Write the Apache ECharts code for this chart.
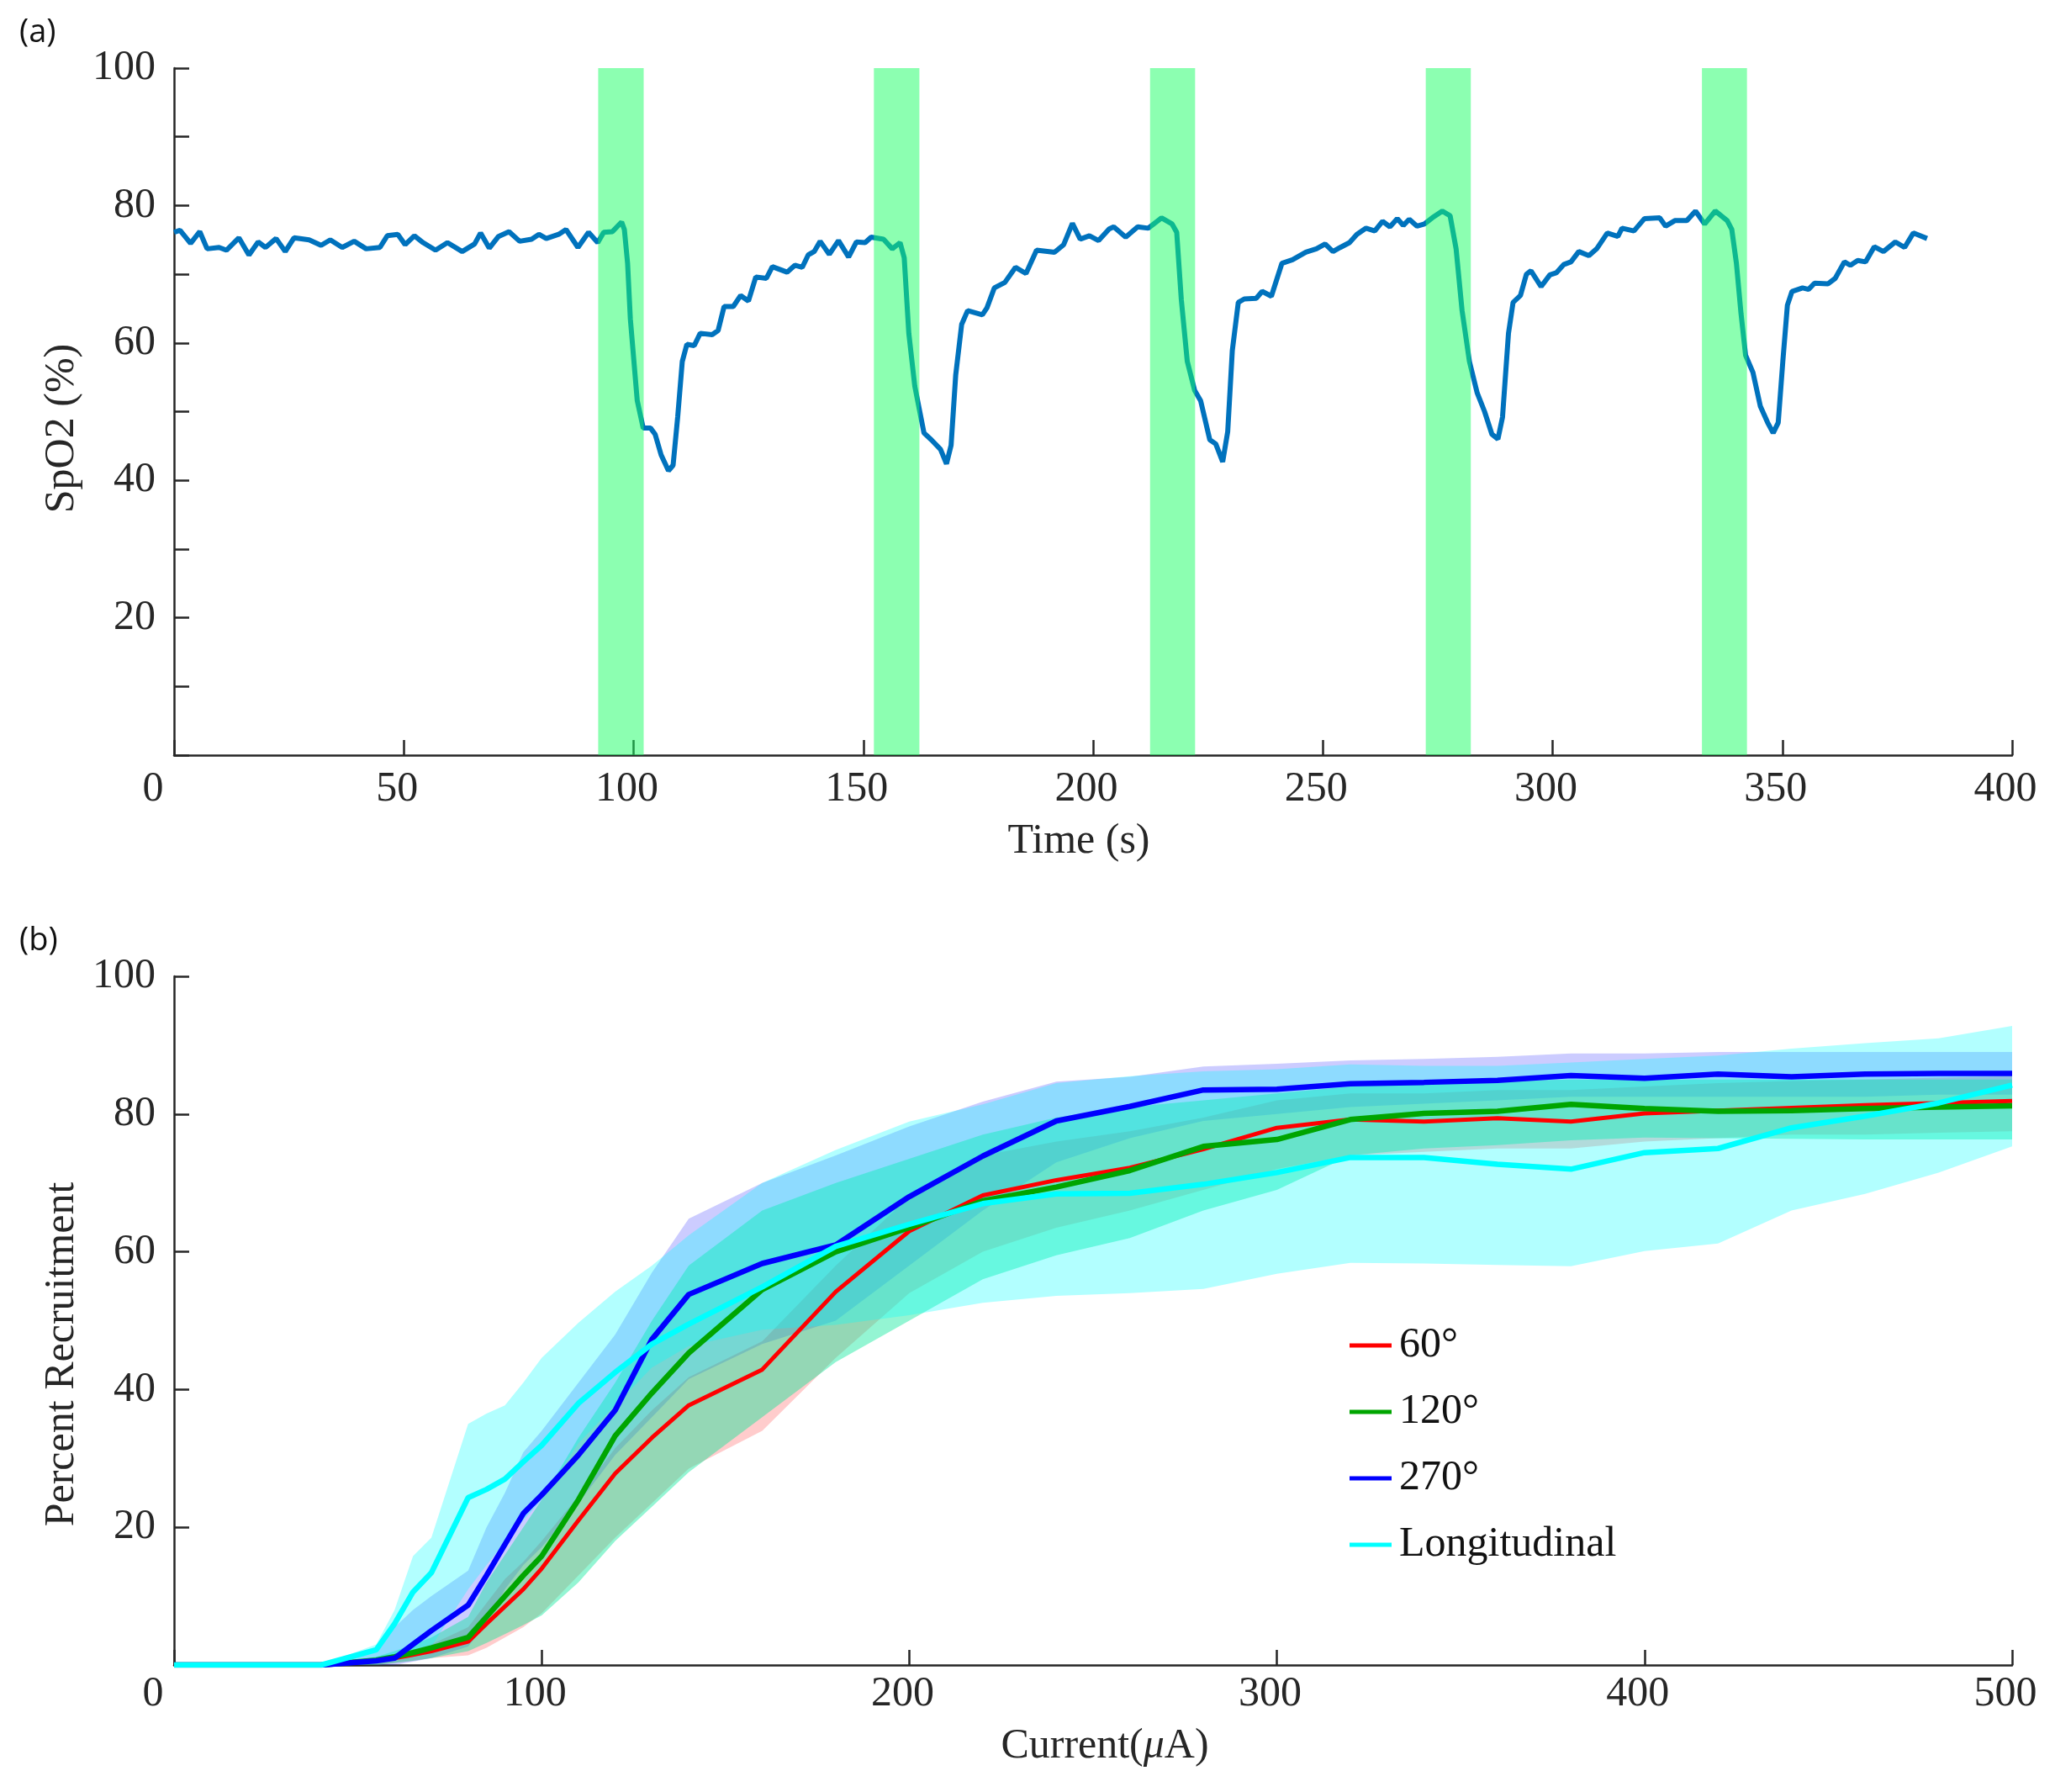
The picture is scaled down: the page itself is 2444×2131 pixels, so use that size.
<!DOCTYPE html>
<html>
<head>
<meta charset="utf-8">
<script src="https://cdn.jsdelivr.net/npm/echarts@6/dist/echarts.min.js"></script>
<style>
  html, body { margin: 0; padding: 0; background: #ffffff; }
  #chartContainer { width: 2444px; height: 2131px; }
</style>
</head>
<body>
<div id="chartContainer"></div>
<script>
// (a) SpO2 trace, [time s, SpO2 %]
var SPO2 = [
  [0, 76.1], [1.3, 76.4], [3.6, 74.5], [5.6, 76.2], [7.2, 73.7], [9.8, 73.9], [11.4, 73.5], [14.1, 75.3],
  [16.3, 72.8], [18.3, 74.7], [19.9, 73.9], [22.2, 75.2], [24.2, 73.3], [26.1, 75.3], [29.4, 75], [32, 74.2],
  [34, 75], [36.6, 73.9], [39.2, 74.8], [41.8, 73.7], [44.8, 73.9], [46.4, 75.6], [48.7, 75.8], [50.3, 74.3],
  [52.3, 75.6], [54.2, 74.6], [56.9, 73.5], [59.5, 74.6], [62.7, 73.3], [65.4, 74.4], [66.7, 76], [68.6, 73.8],
  [70.6, 75.5], [72.9, 76.2], [75.2, 74.8], [77.8, 75.1], [79.4, 75.8], [81, 75.2], [83.7, 75.8], [85.3, 76.5],
  [87.9, 73.9], [90.2, 76.1], [92.2, 74.6], [93.5, 76.1], [95.4, 76.2], [97.4, 77.6], [98, 76.5], [98.7, 71.6],
  [99.3, 63.5], [100.8, 51.6], [102.1, 47.6], [103.7, 47.6], [104.7, 46.7], [106, 43.7], [107.6, 41.4], [108.6, 42.2],
  [109.6, 49.2], [110.6, 57.3], [111.6, 59.8], [113.2, 59.6], [114.5, 61.4], [117.1, 61.2], [118.4, 61.8], [119.7, 65.3],
  [121.7, 65.3], [123.3, 66.9], [125, 66.1], [126.6, 69.6], [128.9, 69.4], [130.2, 71.1], [133.4, 70.3], [135.1, 71.3],
  [136.7, 71], [138, 72.8], [139.3, 73.3], [140.6, 74.8], [142.6, 72.9], [144.6, 74.9], [146.8, 72.5], [148.5, 74.7],
  [150.4, 74.6], [151.7, 75.4], [154.4, 75.1], [156.3, 73.7], [158, 74.6], [158.9, 72.4], [159.9, 61.4], [161.2, 53.7],
  [163.2, 46.9], [164.8, 45.9], [166.8, 44.5], [168.1, 42.4], [169.1, 45.1], [170.1, 55.3], [171.4, 62.7], [172.7, 64.7],
  [175.9, 64.1], [176.9, 65.1], [178.5, 68], [180.8, 68.8], [183.1, 71], [185.4, 70.1], [187.7, 73.5], [191.6, 73.2],
  [193.6, 74.3], [195.5, 77.4], [197.2, 75.1], [199.2, 75.6], [201.2, 74.9], [203.5, 76.6], [204.5, 76.9], [207.1, 75.4],
  [209.7, 76.9], [212, 76.7], [214.9, 78.2], [217.2, 77.3], [218.2, 76.1], [219.2, 66.3], [220.5, 57.3], [222.1, 53.1],
  [223.4, 51.6], [225.4, 45.9], [226.7, 45.3], [228.2, 42.7], [229.3, 47.1], [230.3, 58.9], [231.6, 65.9], [232.9, 66.4],
  [235.5, 66.5], [236.8, 67.5], [238.8, 66.8], [241.1, 71.6], [243.4, 72.1], [246.3, 73.2], [248.6, 73.7], [250.5, 74.4],
  [252.2, 73.3], [253.8, 73.9], [255.8, 74.6], [257.4, 75.8], [259.4, 76.7], [261.3, 76.3], [263, 77.7], [264.6, 76.9],
  [266.2, 78.1], [267.5, 77.1], [268.8, 78], [270.5, 77], [272.1, 77.3], [273.8, 78.2], [276, 79.2], [277.7, 78.5],
  [279, 73.7], [280.3, 64.7], [281.9, 57.3], [283.6, 52.7], [285.2, 50], [286.8, 46.7], [288.1, 46], [289.1, 49.2],
  [290.4, 61.4], [291.4, 65.9], [293, 66.9], [294.3, 70], [295.3, 70.5], [297.5, 68.2], [299.4, 69.9], [300.8, 70.2],
  [302.4, 71.4], [304, 71.8], [305.7, 73.3], [307.9, 72.7], [309.6, 73.7], [311.9, 76], [314.2, 75.5], [315.1, 76.7],
  [317.7, 76.3], [320, 78.1], [323.3, 78.2], [324.6, 77], [326.6, 77.8], [329.2, 77.8], [331.1, 79.2], [333.1, 77.3],
  [335.4, 79.2], [338, 77.8], [339, 76.5], [340, 71.6], [341, 64.3], [342, 58.2], [343.6, 55.7], [345.2, 50.8],
  [346.8, 48.4], [348, 46.9], [349.1, 48.4], [350.1, 57.3], [351.1, 65.5], [352.1, 67.5], [354.4, 68], [355.7, 67.8],
  [357, 68.7], [359.9, 68.6], [361.5, 69.4], [363.5, 71.8], [364.8, 71.3], [366.4, 72], [368.1, 71.8], [370, 74],
  [372, 73.3], [374.6, 74.7], [376.6, 73.9], [378.5, 76], [381.5, 75.2]
];
// stimulation windows (s)
var STIM_START = [92.3, 152.3, 212.4, 272.4, 332.5];
var STIM_END = [102.2, 162.2, 222.2, 282.2, 342.3];

// (b) recruitment curves
var CURRENT = [0, 40, 55, 60, 65, 70, 80, 85, 90, 95, 100, 110, 120, 130, 140, 160, 180, 200, 220, 240, 260, 280, 300, 320, 340, 360, 380, 400, 420, 440, 460, 480, 500];

var MEAN_60 = [0, 0, 0.7, 1, 1.5, 2, 3.4, 6, 8.5, 11, 14, 21, 27.8, 33, 37.7, 42.9, 54.2, 63, 68.2, 70.4, 72.2, 74.9, 78, 79.2, 78.9, 79.4, 78.9, 80.1, 80.5, 80.9, 81.3, 81.6, 81.9];
var LOW_60 = [0, 0, 0, 0.3, 0.6, 1, 1.4, 2.5, 4, 5.5, 7.5, 13, 18.5, 23.5, 28.5, 34, 44.6, 54, 60, 63.5, 66, 69, 72, 74, 74.5, 75, 75, 76, 76.5, 77, 77, 77.3, 77.5];
var HIGH_60 = [0, 0, 1, 1.5, 2.2, 3, 5.5, 9, 12.5, 15, 18, 24.5, 31.5, 37, 41.8, 47, 58, 68, 74, 76, 77.5, 79.5, 82, 83, 83, 83.5, 83.5, 84, 84.5, 84.8, 85, 85.3, 85.5];

var MEAN_120 = [0, 0, 0.7, 1.2, 1.8, 2.5, 4, 7, 10, 13, 15.8, 24, 33.3, 39.5, 45.3, 54.5, 60, 63.5, 67.4, 69.4, 71.8, 75.3, 76.3, 79.2, 80.1, 80.4, 81.4, 80.8, 80.4, 80.5, 80.8, 81, 81.2];
var LOW_120 = [0, 0, 0, 0.3, 0.6, 1, 2, 3.2, 4.5, 5.8, 7.2, 12, 18, 23, 28, 36, 44, 50, 56, 59.5, 62, 66, 69, 74, 75, 75.5, 76.2, 76.6, 76.5, 76.4, 76.3, 76.3, 76.3];
var HIGH_120 = [0, 0, 1.2, 2, 3, 4, 7, 12, 16, 20, 24, 33, 41, 50, 58, 66, 70, 73.5, 77, 79.5, 81, 82, 83, 84, 84.5, 84.8, 85, 85, 85, 85, 85, 85, 85];

var MEAN_270 = [0, 0, 0.6, 1, 3, 5, 8.7, 13, 17.5, 22, 24.7, 30.5, 37, 47.3, 53.8, 58.3, 61, 68, 73.9, 79, 81.1, 83.5, 83.6, 84.4, 84.6, 84.9, 85.6, 85.2, 85.8, 85.4, 85.8, 85.9, 85.9];
var LOW_270 = [0, 0, 0, 0, 0.5, 1, 2.7, 6, 11, 14.5, 17.1, 23.5, 30.5, 36, 41.5, 46.6, 50, 58, 66, 73, 76.5, 79, 80, 81, 81.5, 82, 82.5, 82.5, 82.5, 82.5, 82.5, 82.8, 82.8];
var HIGH_270 = [0, 0, 2, 5.5, 8, 10, 13.7, 20, 25, 30.9, 34, 41, 48, 57, 64.8, 70, 74, 78.2, 81.8, 84.7, 85.4, 86.9, 87.3, 87.8, 88, 88.3, 88.8, 88.8, 89, 89, 89, 89, 89];

var MEAN_LONG = [0, 0, 2.2, 6, 10.6, 13.4, 24.3, 25.5, 27, 29.5, 31.9, 38, 42.5, 46.6, 49.5, 54.9, 60.8, 64, 67, 68.4, 68.5, 69.8, 71.5, 73.7, 73.7, 72.7, 72, 74.4, 75, 78, 79.7, 81.6, 84.2];
var LOW_LONG = [0, 0, 0.7, 1.2, 2, 2.7, 11, 14.5, 17.8, 21, 24, 32.2, 37.7, 43.2, 46.3, 48.7, 49.4, 50.8, 52.6, 53.6, 54, 54.6, 56.8, 58.4, 58.3, 58.1, 57.9, 60.1, 61.2, 66, 68.4, 71.5, 75.3];
var HIGH_LONG = [0, 0, 3, 8, 15.8, 18.5, 35, 36.5, 37.7, 41, 44.6, 49.7, 54.2, 58, 62.4, 70, 74.8, 78.9, 81.4, 84.5, 85.5, 86.2, 86.5, 87.2, 87, 87, 87.5, 88, 88.5, 89.5, 90.3, 91, 92.8];

var LEGEND_NAMES = ["60°", "120°", "270°", "Longitudinal"];

var AXIS_COLOR = "#262626";
var FONT = "Liberation Serif";

function pairs(values) {
  return CURRENT.map((x, i) => [x, values[i]]);
}

// shaded band between low and high, drawn as one polygon on the (b) axes
function bandSeries(key, low, high, color) {
  return {
    name: key,
    type: "custom",
    xAxisIndex: 1,
    yAxisIndex: 1,
    silent: true,
    z: 1,
    data: CURRENT.map((x, i) => [x, low[i], high[i]]),
    encode: { x: 0, y: [1, 2] },
    renderItem: (params, api) => {
      if (params.dataIndex !== 0) {
        return null;
      }
      let points = [];
      for (let i = 0; i < CURRENT.length; i++) {
        points.push(api.coord([CURRENT[i], high[i]]));
      }
      for (let i = CURRENT.length - 1; i >= 0; i--) {
        points.push(api.coord([CURRENT[i], low[i]]));
      }
      return {
        type: "polygon",
        shape: { points: points },
        style: { fill: color },
      };
    },
  };
}

function meanSeries(name, values, color, width) {
  return {
    name: name,
    type: "line",
    xAxisIndex: 1,
    yAxisIndex: 1,
    data: pairs(values),
    showSymbol: false,
    color: color,
    lineStyle: { color: color, width: width },
    z: 4,
  };
}

function axisCommon() {
  return {
    axisLine: { show: true, onZero: false, lineStyle: { color: AXIS_COLOR, width: 2.5 } },
    axisTick: { show: true, inside: true, length: 18, lineStyle: { color: AXIS_COLOR, width: 2.5 } },
    splitLine: { show: false },
    axisLabel: { color: AXIS_COLOR, fontFamily: FONT, fontSize: 50 },
    nameTextStyle: { color: AXIS_COLOR, fontFamily: FONT, fontSize: 50 },
  };
}

function xLabelFormatter(v) {
  return v === 0 ? "{z|0}" : "{n|" + v + "}";
}
var X_RICH = {
  z: { fontFamily: FONT, fontSize: 50, color: AXIS_COLOR, padding: [0, 50, 0, 0] },
  n: { fontFamily: FONT, fontSize: 50, color: AXIS_COLOR, padding: [0, 16, 0, 0] },
};

window.onload = (_) => {
  var CHART = echarts.init(document.getElementById("chartContainer"), null, { renderer: "canvas" });

  var xTop = axisCommon();
  Object.assign(xTop, {
    type: "value",
    gridIndex: 0,
    min: 0,
    max: 400,
    interval: 50,
    name: "Time (s)",
    nameLocation: "middle",
    nameGap: 78,
  });
  xTop.axisLabel = Object.assign({}, xTop.axisLabel, { margin: 16, formatter: xLabelFormatter, rich: X_RICH });
  xTop.nameTextStyle = Object.assign({}, xTop.nameTextStyle, { padding: [0, 34, 0, 0] });

  var yTop = axisCommon();
  Object.assign(yTop, {
    type: "value",
    gridIndex: 0,
    min: 0,
    max: 100,
    interval: 10,
    name: "SpO2 (%)",
    nameLocation: "middle",
    nameGap: 100,
  });
  yTop.axisLabel = Object.assign({}, yTop.axisLabel, {
    margin: 22,
    formatter: (v) => (v > 0 && v % 20 === 0 ? String(v) : ""),
  });
  yTop.nameTextStyle = Object.assign({}, yTop.nameTextStyle, { padding: [0, 40, 0, 0] });

  var xBot = axisCommon();
  Object.assign(xBot, {
    type: "value",
    gridIndex: 1,
    min: 0,
    max: 500,
    interval: 100,
    name: "Current({mu|μ}A)",
    nameLocation: "middle",
    nameGap: 72,
  });
  xBot.axisLabel = Object.assign({}, xBot.axisLabel, { margin: 10, formatter: xLabelFormatter, rich: X_RICH });
  xBot.nameTextStyle = Object.assign({}, xBot.nameTextStyle, {
    padding: [0, 0, 0, 28],
    rich: { mu: { fontFamily: FONT, fontSize: 50, fontStyle: "italic", color: AXIS_COLOR } },
  });

  var yBot = axisCommon();
  Object.assign(yBot, {
    type: "value",
    gridIndex: 1,
    min: 0,
    max: 100,
    interval: 20,
    name: "Percent Recruitment",
    nameLocation: "middle",
    nameGap: 100,
  });
  yBot.axisLabel = Object.assign({}, yBot.axisLabel, {
    margin: 22,
    formatter: (v) => (v > 0 ? String(v) : ""),
  });
  yBot.nameTextStyle = Object.assign({}, yBot.nameTextStyle, { padding: [0, 80, 0, 0] });

  var series = [
    {
      name: "SpO2",
      type: "line",
      xAxisIndex: 0,
      yAxisIndex: 0,
      data: SPO2,
      showSymbol: false,
      lineStyle: { color: "#0072BD", width: 6 },
      z: 2,
    },
    {
      name: "Stimulation",
      type: "custom",
      xAxisIndex: 0,
      yAxisIndex: 0,
      silent: true,
      z: 5,
      data: STIM_START.map((s, i) => [s, STIM_END[i]]),
      encode: { x: [0, 1] },
      renderItem: (params, api) => {
        var p0 = api.coord([api.value(0), 100]);
        var p1 = api.coord([api.value(1), 0]);
        return {
          type: "rect",
          shape: { x: p0[0], y: p0[1], width: p1[0] - p0[0], height: p1[1] - p0[1] },
          style: { fill: "rgba(25,255,100,0.5)" },
        };
      },
    },
  ];

  // bands: red, blue, green, cyan (cyan on top)
  series.push(bandSeries("b60", LOW_60, HIGH_60, "rgba(255,0,0,0.2)"));
  series.push(bandSeries("b270", LOW_270, HIGH_270, "rgba(0,0,255,0.2)"));
  series.push(bandSeries("b120", LOW_120, HIGH_120, "rgba(0,230,150,0.42)"));
  series.push(bandSeries("bLong", LOW_LONG, HIGH_LONG, "rgba(0,255,255,0.3)"));
  series.push(meanSeries(LEGEND_NAMES[0], MEAN_60, "#ff0000", 5));
  series.push(meanSeries(LEGEND_NAMES[1], MEAN_120, "#00a500", 6.5));
  series.push(meanSeries(LEGEND_NAMES[2], MEAN_270, "#0000ff", 6.5));
  series.push(meanSeries(LEGEND_NAMES[3], MEAN_LONG, "#00ffff", 6.5));

  var option = {
    animation: false,
    backgroundColor: "#ffffff",
    grid: [
      { left: 207, top: 81, width: 2186, height: 817 },
      { left: 207, top: 1161, width: 2186, height: 819 },
    ],
    xAxis: [xTop, xBot],
    yAxis: [yTop, yBot],
    legend: {
      data: LEGEND_NAMES,
      orient: "vertical",
      left: 1605,
      top: 1575,
      padding: 0,
      itemGap: 29,
      itemWidth: 50,
      itemHeight: 5,
      icon: "rect",
      selectedMode: false,
      textStyle: { fontFamily: FONT, fontSize: 50, lineHeight: 50, color: "#111111", padding: [0, 0, 0, 4] },
    },
    graphic: [
      {
        type: "text",
        left: 23,
        top: 20,
        style: { text: "(a)", fontFamily: "Open Sans", fontSize: 38, fill: "#111111" },
      },
      {
        type: "text",
        left: 23,
        top: 1100,
        style: { text: "(b)", fontFamily: "Open Sans", fontSize: 38, fill: "#111111" },
      },
    ],
    series: series,
  };

  CHART.setOption(option);
};
</script>
</body>
</html>
